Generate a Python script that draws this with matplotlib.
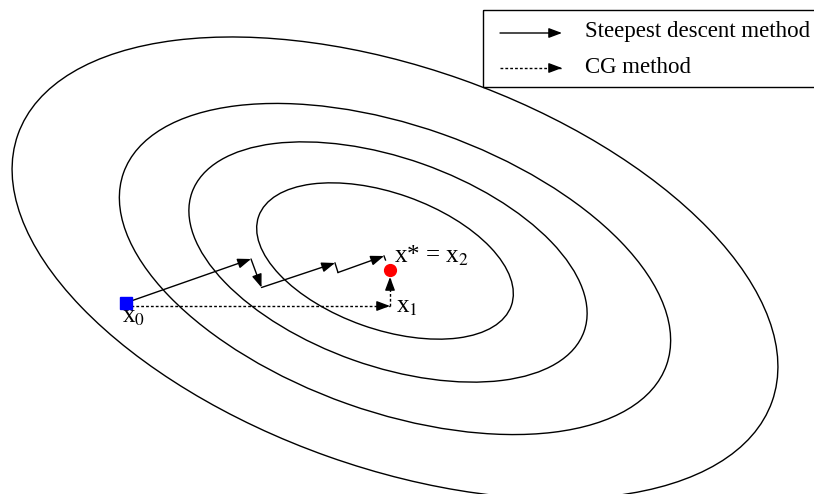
import matplotlib
matplotlib.use("Agg")
import matplotlib.pyplot as plt
from matplotlib.patches import Ellipse, Rectangle
import numpy as np

plt.rcParams['font.family'] = ['Liberation Serif', 'DejaVu Serif']
plt.rcParams['mathtext.fontset'] = 'stix'

# contour ellipses (pixel-like units), inner to outer
ell_cx = [385, 388, 395, 395]
ell_cy = [261, 262, 269, 268]
ell_a = [134, 208, 288, 400]   # semi-major
ell_b = [68, 104, 143, 200]    # semi-minor
ell_angle = 19.5

# steepest descent path
sd_x = [131, 251, 261.5, 335, 338, 384]
sd_y = [301, 259, 287.5, 263, 272.5, 256]

# CG path: x0 -> x1 -> x2
cg_x = [131, 390, 390]
cg_y = [306, 306, 277]

x0 = (125.5, 303)
xstar = (390, 270)

fig = plt.figure(figsize=(8.14, 4.94), dpi=100)
ax = fig.add_axes([0, 0, 1, 1])
ax.set_xlim(0, 814)
ax.set_ylim(494, 0)
ax.axis('off')

for cx, cy, a, b in zip(ell_cx, ell_cy, ell_a, ell_b):
    ax.add_patch(Ellipse((cx, cy), 2 * a, 2 * b, angle=ell_angle,
                         fill=False, ec='black', lw=1.0))

head = "-|>,head_length=0.8,head_width=0.3"


def arrow(p, q, dashed=False):
    p = np.array(p, float)
    q = np.array(q, float)
    if dashed:
        ax.plot([p[0], q[0]], [p[1], q[1]], color='black', lw=1.0,
                linestyle=(0, (2, 1.5)))
        d = (q - p) / np.hypot(*(q - p))
        p = q - 11 * d
    ax.annotate('', xy=q, xytext=p,
                arrowprops=dict(arrowstyle=head, color='black', lw=1.0,
                                shrinkA=0, shrinkB=0))


# steepest descent: long steps get arrows, short steps are plain
for i in range(len(sd_x) - 1):
    p = (sd_x[i], sd_y[i])
    q = (sd_x[i + 1], sd_y[i + 1])
    if np.hypot(q[0] - p[0], q[1] - p[1]) > 20:
        arrow(p, q)
    else:
        ax.plot([p[0], q[0]], [p[1], q[1]], color='black', lw=1.0)
ax.plot([384, 385.5], [256, 260], color='black', lw=1.0)

for i in range(len(cg_x) - 1):
    arrow((cg_x[i], cg_y[i]), (cg_x[i + 1], cg_y[i + 1]), dashed=True)

ax.plot(*x0, marker='s', color='#0000ff', markersize=8.5, zorder=5)
ax.plot(*xstar, marker='o', color='#ff0000', markersize=8.5, zorder=5)

ax.text(122, 323, r'x$_0$', fontsize=18, va='baseline')
ax.text(394, 263, r'x* = x$_2$', fontsize=18, va='baseline')
ax.text(396, 313, r'x$_1$', fontsize=18, va='baseline')

# legend box
ax.add_patch(Rectangle((483, 10), 340, 77, fill=False, ec='black', lw=1.0,
                       clip_on=True))
arrow((500, 33), (562, 33))
arrow((500, 68), (562, 68), dashed=True)
ax.text(585, 37, 'Steepest descent method', fontsize=16.5, va='baseline')
ax.text(585, 73, 'CG method', fontsize=16.5, va='baseline')

fig.savefig('out.png', dpi=100)
